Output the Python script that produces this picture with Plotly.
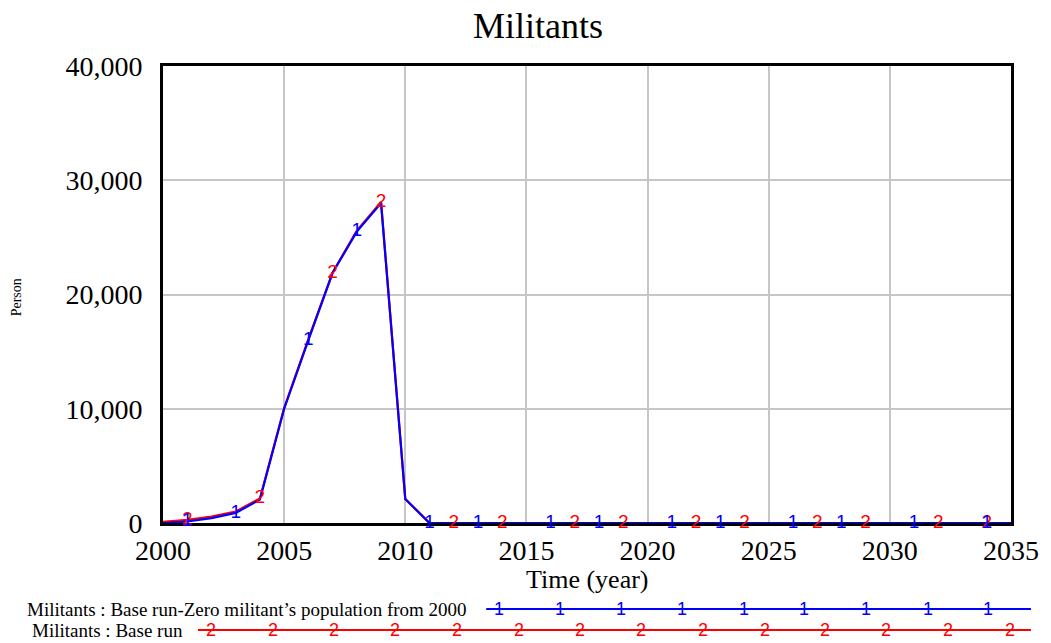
import plotly.graph_objects as go

years = list(range(2000, 2036))
base_run = [100, 280, 560, 1000, 2150, 10050, 16100, 21900, 25600, 28100, 2100] + [0] * 25
zero_run = [0, 130, 420, 880, 2050, 10000, 16000, 21900, 25500, 28000, 2100] + [0] * 25

marker_years_zero = [2001, 2003, 2006, 2008, 2011, 2013, 2016, 2018, 2021, 2023, 2026, 2028, 2031, 2034]
marker_years_base = [2001, 2004, 2007, 2009, 2012, 2014, 2017, 2019, 2022, 2024, 2027, 2029, 2032, 2034]

name_zero = "Militants : Base run-Zero militant\u2019s population from 2000"
name_base = "Militants : Base run"

BLUE = "#0000ff"
RED = "#ff0000"
SERIF = "Liberation Serif, Times New Roman, serif"
SANS = "Liberation Sans, Arial, sans-serif"

W, H = 1051, 643
L, R, T, B = 163, 1013, 66, 523

fig = go.Figure()
fig.add_trace(go.Scatter(x=years, y=base_run, mode="lines", line=dict(color=RED, width=2.2), showlegend=False))
fig.add_trace(go.Scatter(x=years, y=zero_run, mode="lines", line=dict(color=BLUE, width=2.2), showlegend=False))

def pick(vals, sel):
    return [vals[years.index(y)] for y in sel]

fig.add_trace(go.Scatter(x=marker_years_base, y=pick(base_run, marker_years_base), mode="text",
                         text=["2"] * len(marker_years_base), textposition="middle center",
                         textfont=dict(color=RED, size=19, family=SANS), cliponaxis=False, showlegend=False))
fig.add_trace(go.Scatter(x=marker_years_zero, y=pick(zero_run, marker_years_zero), mode="text",
                         text=["1"] * len(marker_years_zero), textposition="middle center",
                         textfont=dict(color=BLUE, size=19, family=SANS), cliponaxis=False, showlegend=False))

def px(x):
    return (x - L) / (R - L)

def py(y):
    return (B - y) / (B - T)

shapes = []
annotations = []
# legend row 1
shapes.append(dict(type="line", xref="paper", yref="paper", x0=px(487), x1=px(1033), y0=py(609), y1=py(609),
                   line=dict(color=BLUE, width=2)))
annotations.append(dict(xref="paper", yref="paper", x=px(470), y=py(609), text=name_zero, showarrow=False,
                        xanchor="right", yanchor="middle", font=dict(family=SERIF, size=19, color="black")))
for xm in [500, 561, 622, 683, 745, 806, 868, 930, 990]:
    annotations.append(dict(xref="paper", yref="paper", x=px(xm), y=py(609), text="1", showarrow=False,
                            xanchor="center", yanchor="middle", font=dict(family=SANS, size=18, color=BLUE)))
# legend row 2
shapes.append(dict(type="line", xref="paper", yref="paper", x0=px(198), x1=px(1033), y0=py(630), y1=py(630),
                   line=dict(color=RED, width=2)))
annotations.append(dict(xref="paper", yref="paper", x=px(185), y=py(630), text=name_base, showarrow=False,
                        xanchor="right", yanchor="middle", font=dict(family=SERIF, size=19, color="black")))
for xm in [211, 273, 334, 396, 458, 520, 581, 642, 704, 766, 827, 888, 950, 1012]:
    annotations.append(dict(xref="paper", yref="paper", x=px(xm), y=py(630), text="2", showarrow=False,
                            xanchor="center", yanchor="middle", font=dict(family=SANS, size=18, color=RED)))
# title and axis titles
annotations.append(dict(xref="paper", yref="paper", x=px(539), y=py(26), text="Militants", showarrow=False,
                        xanchor="center", yanchor="middle", font=dict(family=SERIF, size=36, color="black")))
annotations.append(dict(xref="paper", yref="paper", x=px(588), y=py(579), text="Time (year)", showarrow=False,
                        xanchor="center", yanchor="middle", font=dict(family=SERIF, size=26, color="black")))
annotations.append(dict(xref="paper", yref="paper", x=px(16), y=py(297), text="Person", showarrow=False,
                        textangle=-90, xanchor="center", yanchor="middle", font=dict(family=SERIF, size=14, color="black")))

fig.update_layout(
    width=W, height=H,
    margin=dict(l=L, r=W - R, t=T, b=H - B),
    paper_bgcolor="white", plot_bgcolor="white",
    shapes=shapes, annotations=annotations,
    showlegend=False,
)
fig.update_xaxes(range=[2000, 2035], tickvals=list(range(2000, 2036, 5)), showgrid=True, gridcolor="#c6c6c6",
                 gridwidth=2, showline=True, linecolor="black", linewidth=3, mirror=True, zeroline=False,
                 ticks="", ticklabelstandoff=0, tickfont=dict(family=SERIF, size=28, color="black"), layer="below traces")
fig.update_yaxes(range=[0, 40000], tickvals=[0, 10000, 20000, 30000, 40000], tickformat=",d", showgrid=True,
                 gridcolor="#c6c6c6", gridwidth=2, showline=True, linecolor="black", linewidth=3, mirror=True,
                 zeroline=False, ticks="", ticklabelstandoff=12, tickfont=dict(family=SERIF, size=28, color="black"),
                 layer="below traces")

fig.write_html("out.html", config={"displayModeBar": False},
               post_script="document.body.style.margin='0';document.body.style.overflow='hidden';")
